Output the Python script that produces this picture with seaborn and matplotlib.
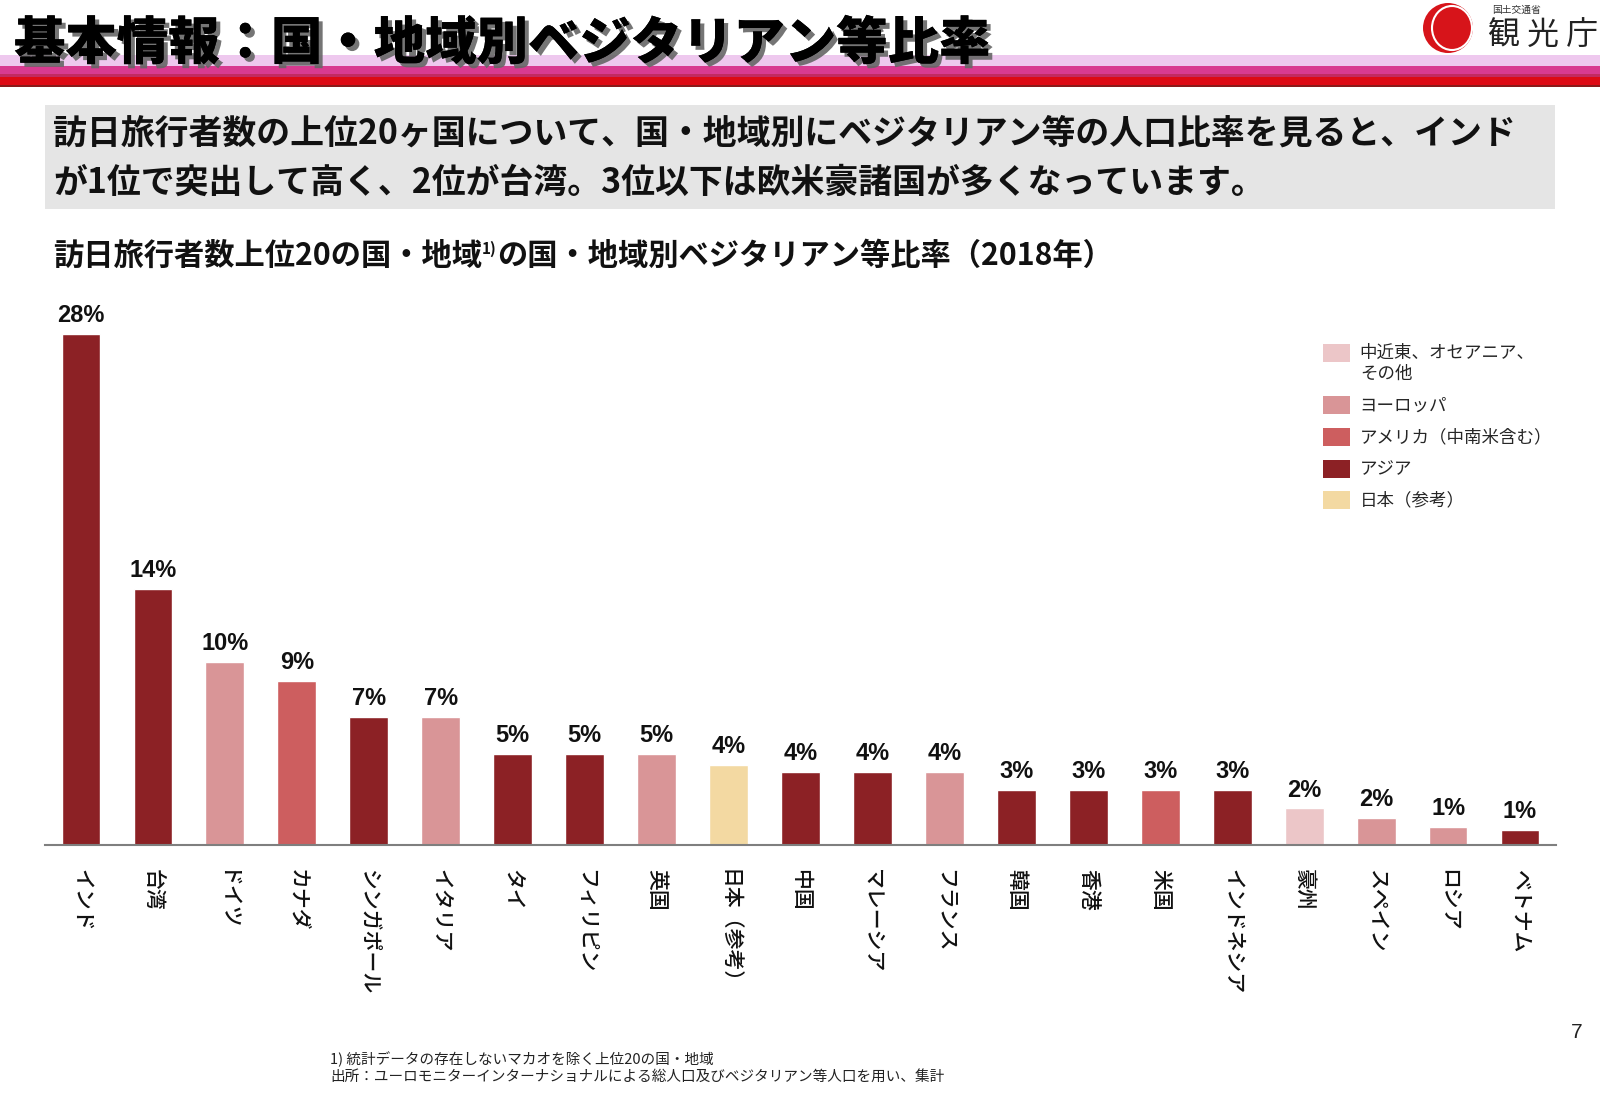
import matplotlib
matplotlib.use("Agg")
import matplotlib.pyplot as plt
import matplotlib.patheffects as pe
from matplotlib.patches import Rectangle, Ellipse, Patch
import seaborn as sns
import pandas as pd

# Data
countries = ["インド", "台湾", "ドイツ", "カナダ", "シンガポール", "イタリア", "タイ",
             "フィリピン", "英国", "日本（参考）", "中国", "マレーシア", "フランス", "韓国",
             "香港", "米国", "インドネシア", "豪州", "スペイン", "ロシア", "ベトナム"]
rates = [28, 14, 10, 9, 7, 7, 5, 5, 5, 4.4, 4, 4, 4, 3, 3, 3, 3, 2, 1.5, 1, 0.8]
rate_labels = ["28%", "14%", "10%", "9%", "7%", "7%", "5%", "5%", "5%", "4%", "4%",
               "4%", "4%", "3%", "3%", "3%", "3%", "2%", "2%", "1%", "1%"]
regions = ["アジア", "アジア", "ヨーロッパ", "アメリカ（中南米含む）", "アジア", "ヨーロッパ",
           "アジア", "アジア", "ヨーロッパ", "日本（参考）", "アジア", "アジア", "ヨーロッパ",
           "アジア", "アジア", "アメリカ（中南米含む）", "アジア", "中近東、オセアニア、\nその他",
           "ヨーロッパ", "ヨーロッパ", "アジア"]
region_names = ["中近東、オセアニア、\nその他", "ヨーロッパ", "アメリカ（中南米含む）",
                "アジア", "日本（参考）"]
region_colors = ["#ECC6C8", "#D99597", "#CD5E5F", "#8C2125", "#F3D9A2"]

df = pd.DataFrame({"country": countries, "rate": rates, "region": regions})

W, H = 1600, 1107
sns.set_style("white")
plt.rcParams["font.family"] = ["Noto Sans CJK JP", "DejaVu Sans"]

fig = plt.figure(figsize=(W / 100, H / 100), dpi=100)


def fx(x):
    return x / W


def fy(y):
    return 1 - y / H


def band(y0, y1, color, x0=0, x1=W):
    fig.patches.append(Rectangle((fx(x0), fy(y1)), fx(x1) - fx(x0), fy(y0) - fy(y1),
                                 transform=fig.transFigure, facecolor=color,
                                 edgecolor="none", zorder=1))


# Header stripes
band(55, 66, "#EEC8EE")
band(66, 74, "#D83A90")
band(74, 77, "#C22A60")
band(77, 85, "#DD0A14")
band(85, 87, "#8A1A1A")

# Title
fig.text(fx(14), fy(44), "基本情報：国・地域別ベジタリアン等比率", fontsize=37,
         fontweight="heavy", va="center", ha="left", color="black", zorder=5,
         path_effects=[pe.withSimplePatchShadow(offset=(3, -3), shadow_rgbFace="#666666",
                                                alpha=0.9), pe.Normal()])

# Logo
fig.patches.append(Ellipse((fx(1448), fy(28)), 50 / W, 50 / H, transform=fig.transFigure,
                           facecolor="#D7141A", edgecolor="none", zorder=2))
fig.patches.append(Ellipse((fx(1452), fy(28)), 40 / W, 44 / H, transform=fig.transFigure,
                           facecolor="none", edgecolor="white", lw=1.5, zorder=3))
fig.text(fx(1492), fy(10), "国土交通省", fontsize=7, color="#333333", va="center")
fig.text(fx(1488), fy(36), "観 光 庁", fontsize=23, color="#222222", va="center")

# Summary box
band(105, 209, "#E5E5E5", 45, 1555)
fig.text(fx(53), fy(133), "訪日旅行者数の上位20ヶ国について、国・地域別にベジタリアン等の人口比率を見ると、インド",
         fontsize=24.4, fontweight="bold", va="center", color="#111111", zorder=5)
fig.text(fx(53), fy(182), "が1位で突出して高く、2位が台湾。3位以下は欧米豪諸国が多くなっています。",
         fontsize=24.4, fontweight="bold", va="center", color="#111111", zorder=5)

# Chart axes
ax = fig.add_axes([fx(45), fy(845), fx(1556) - fx(45), 548 / H])

# Subtitle with superscript note
t1 = fig.text(fx(53), fy(256), "訪日旅行者数上位20の国・地域", fontsize=21.8,
              fontweight="bold", va="center", color="#111111")
t2 = ax.annotate("1)", xy=(1, 0.72), xycoords=t1, fontsize=11, fontweight="bold",
                 va="center", ha="left", color="#111111", annotation_clip=False)
ax.annotate("の国・地域別ベジタリアン等比率（2018年）", xy=(1, 0), xycoords=(t2, t1),
            fontsize=21.8, fontweight="bold", va="bottom", ha="left", color="#111111",
            annotation_clip=False)

sns.barplot(data=df, x="country", y="rate", hue="region", order=countries,
            hue_order=region_names, palette=dict(zip(region_names, region_colors)),
            dodge=False, width=0.54, saturation=1, legend=False, ax=ax)

for i, (v, lab) in enumerate(zip(rates, rate_labels)):
    ax.annotate(lab, xy=(i, v), xytext=(0, 5), textcoords="offset points",
                ha="center", va="bottom", fontsize=17, fontweight="bold",
                family="Liberation Sans", color="#111111")

ax.set_xlim(-0.5, 20.5)
ax.set_ylim(0, 30)
ax.set_xlabel("")
ax.set_ylabel("")
ax.set_yticks([])
for s in ["left", "top", "right"]:
    ax.spines[s].set_visible(False)
ax.spines["bottom"].set_color("#7F7F7F")
ax.spines["bottom"].set_linewidth(1.5)
ax.set_xticks(range(len(countries)))
ax.set_xticklabels(countries, rotation=270, fontsize=15, fontweight="medium",
                   color="#111111")
ax.set_xticks([i - 0.5 for i in range(len(countries) + 1)], minor=True)
ax.tick_params(axis="x", which="major", length=0, pad=17)
ax.tick_params(axis="x", which="minor", length=8, width=1.5, color="#7F7F7F",
               direction="out")

handles = [Patch(facecolor=c, edgecolor="none", label=n)
           for n, c in zip(region_names, region_colors)]
leg = ax.legend(handles=handles, loc="upper left", bbox_to_anchor=(fx(1323), fy(344)),
                bbox_transform=fig.transFigure, frameon=False, fontsize=12.6,
                handlelength=1.55, handleheight=1.2, handletextpad=0.55,
                labelspacing=0.78, borderpad=0, borderaxespad=0)
# square beside the first line of a two-line label
for col in leg._legend_handle_box.get_children():
    for row in col.get_children():
        row.align = "top"

# Footnotes and page number
fig.text(fx(330), fy(1059), "1) 統計データの存在しないマカオを除く上位20の国・地域",
         fontsize=10.5, va="center", color="#222222")
fig.text(fx(330), fy(1077), "出所：ユーロモニターインターナショナルによる総人口及びベジタリアン等人口を用い、集計",
         fontsize=10.5, va="center", color="#222222")
fig.text(fx(1577), fy(1033), "7", fontsize=15, family="Liberation Sans", va="center",
         ha="center", color="#222222")

plt.savefig("out.png", dpi=100)
